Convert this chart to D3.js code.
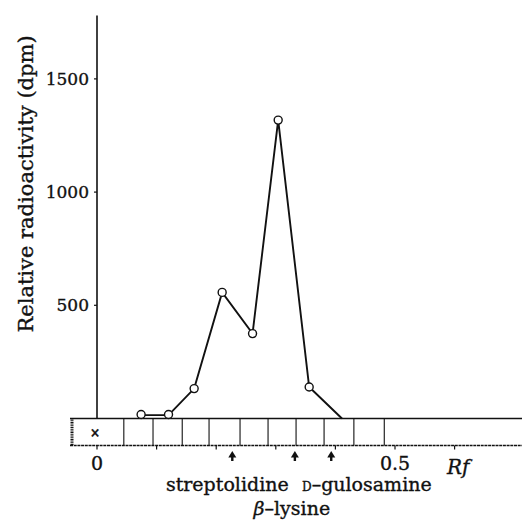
<!DOCTYPE html>
<html>
<head>
<meta charset="utf-8">
<script src="https://cdn.jsdelivr.net/npm/d3@7"></script>
<style>
  body { margin: 0; background: #fff; }
  svg { display: block; }
  text { font-family: "DejaVu Serif", "Liberation Serif", serif; fill: #111; stroke: #111; stroke-width: 0.35px; }
</style>
</head>
<body>
<svg id="chart" width="522" height="521"></svg>
<script>
// fraction positions (Rf) and radioactivity (dpm)
const rfValues = [0.074, 0.120, 0.163, 0.210, 0.261, 0.304, 0.356, 0.411];
const dpmValues = [15, 15, 132, 557, 375, 1318, 139, 0];
const hasMarker = [true, true, true, true, true, true, true, false];

// paper strip cut lines (Rf)
const stripEdges = [-0.045, 0.045, 0.094, 0.143, 0.188, 0.240, 0.287, 0.334, 0.381, 0.431, 0.482];

// reference compounds (arrows)
const refNames = ["streptolidine", "lysine", "gulosamine"];
const refRf = [0.227, 0.332, 0.393];

const yTicks = [500, 1000, 1500];
const xTicks = [0, 0.1, 0.2, 0.3, 0.4, 0.5, 0.6];
const xTickLabels = {0: "0", 0.5: "0.5"};

const svg = d3.select("#chart");
const width = +svg.attr("width");

const x = d3.scaleLinear().domain([0, 0.7]).range([97, 97 + 596 * 0.7]);
const y = d3.scaleLinear().domain([0, 1780]).range([418.5, 15.5]);

const stripTop = 418.5, stripBot = 445.5;
const ink = "#111";

// y axis
const yAxis = svg.append("g").attr("transform", `translate(${x(0)},0)`);
yAxis.append("line")
    .attr("y1", y(1780)).attr("y2", stripTop)
    .attr("stroke", ink).attr("stroke-width", 1.6);
yAxis.selectAll(".tick")
    .data(yTicks)
    .join("line")
    .attr("x1", -3).attr("x2", 0)
    .attr("y1", d => y(d)).attr("y2", d => y(d))
    .attr("stroke", ink).attr("stroke-width", 1.2);
yAxis.selectAll("text")
    .data(yTicks)
    .join("text")
    .attr("x", -8)
    .attr("y", d => y(d))
    .attr("dy", "0.36em")
    .attr("text-anchor", "end")
    .style("font-size", "17px")
    .text(d => d);

svg.append("text")
    .attr("transform", "translate(33,184) rotate(-90)")
    .attr("text-anchor", "middle")
    .style("font-size", "21px")
    .text("Relative radioactivity (dpm)");

// paper strip
svg.append("line")
    .attr("x1", 70).attr("x2", width)
    .attr("y1", stripTop).attr("y2", stripTop)
    .attr("stroke", ink).attr("stroke-width", 1.4);
svg.append("line")
    .attr("x1", 70).attr("x2", width)
    .attr("y1", stripBot).attr("y2", stripBot)
    .attr("stroke", ink).attr("stroke-width", 1.3)
    .attr("stroke-dasharray", "3,0.7");
svg.append("line") // torn left end
    .attr("x1", 72).attr("x2", 72)
    .attr("y1", stripTop).attr("y2", stripBot)
    .attr("stroke", ink).attr("stroke-width", 3)
    .attr("stroke-dasharray", "1,0.7");
svg.selectAll(".cut")
    .data(stripEdges.slice(1))
    .join("line")
    .attr("x1", d => x(d)).attr("x2", d => x(d))
    .attr("y1", stripTop).attr("y2", stripBot)
    .attr("stroke", ink).attr("stroke-width", 1.1);
svg.append("text") // origin mark
    .attr("x", x(0) - 2).attr("y", 433)
    .attr("dy", "0.35em")
    .attr("text-anchor", "middle")
    .style("font-size", "12px")
    .style("font-weight", "bold")
    .text("×");

// x axis ticks under strip
svg.selectAll(".xtick")
    .data(xTicks)
    .join("line")
    .attr("x1", d => x(d)).attr("x2", d => x(d))
    .attr("y1", stripBot).attr("y2", stripBot + 4)
    .attr("stroke", ink).attr("stroke-width", 1.2);
svg.selectAll(".xlabel")
    .data(xTicks.filter(d => xTickLabels[d]))
    .join("text")
    .attr("x", d => x(d))
    .attr("y", 470)
    .attr("text-anchor", "middle")
    .style("font-size", "19px")
    .text(d => xTickLabels[d]);
svg.append("text")
    .attr("x", 447).attr("y", 474)
    .style("font-size", "20px")
    .style("font-style", "italic")
    .text("Rf");

// arrows for reference compounds
const arrows = svg.selectAll(".arrow")
    .data(refRf)
    .join("g")
    .attr("transform", d => `translate(${x(d)},0)`);
arrows.append("line")
    .attr("y1", 455).attr("y2", 461)
    .attr("stroke", ink).attr("stroke-width", 2.4);
arrows.append("path")
    .attr("d", "M0,451L-4,457.5L4,457.5Z")
    .attr("fill", ink);

svg.append("text")
    .attr("x", x(refRf[0]) - 5).attr("y", 491)
    .attr("text-anchor", "middle")
    .style("font-size", "19px")
    .text(refNames[0]);
const lys = svg.append("text")
    .attr("x", x(refRf[1]) - 3).attr("y", 515)
    .attr("text-anchor", "middle")
    .style("font-size", "19px");
lys.append("tspan").style("font-style", "italic").text("β");
lys.append("tspan").text("–" + refNames[1]);
const gulo = svg.append("text")
    .attr("x", 302).attr("y", 491)
    .style("font-size", "19px");
gulo.append("tspan").style("font-size", "12px").text("D");
gulo.append("tspan").text("–" + refNames[2]);

// data line
const pts = rfValues.map((d, i) => ({rf: d, dpm: dpmValues[i], marker: hasMarker[i]}));
const line = d3.line().x(d => x(d.rf)).y(d => y(d.dpm));

svg.append("path")
    .datum(pts)
    .attr("d", line)
    .attr("fill", "none")
    .attr("stroke", ink)
    .attr("stroke-width", 1.9);

svg.selectAll(".pt")
    .data(pts.filter(d => d.marker))
    .join("circle")
    .attr("cx", d => x(d.rf))
    .attr("cy", d => Math.min(y(d.dpm), stripTop - 4))
    .attr("r", 4)
    .attr("fill", "#fff")
    .attr("stroke", ink)
    .attr("stroke-width", 1.4);
</script>
</body>
</html>
